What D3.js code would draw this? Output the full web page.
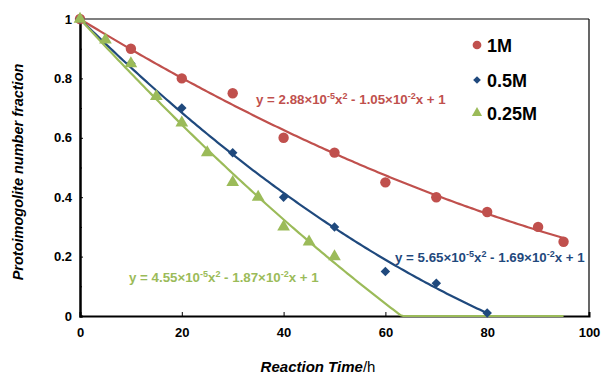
<!DOCTYPE html>
<html><head><meta charset="utf-8">
<script src="https://cdn.jsdelivr.net/npm/d3@7"></script>
<style>body{margin:0;background:#fff}svg{display:block;font-family:"Liberation Sans",Arial,sans-serif}</style>
</head><body><svg id="c" width="603" height="376"></svg>
<script>
const seriesNames = ["1M", "0.5M", "0.25M"];
const colors = ["#C0504D", "#1F497D", "#9BBB59"];
const t1M = [0, 10, 20, 30, 40, 50, 60, 70, 80, 90, 95];
const v1M = [1, 0.9, 0.8, 0.75, 0.6, 0.55, 0.45, 0.4, 0.35, 0.3, 0.25];
const t05M = [0, 10, 20, 30, 40, 50, 60, 70, 80];
const v05M = [1, 0.85, 0.7, 0.55, 0.4, 0.3, 0.15, 0.11, 0.01];
const t025M = [0, 5, 10, 15, 20, 25, 30, 35, 40, 45, 50];
const v025M = [1, 0.93, 0.85, 0.74, 0.65, 0.55, 0.45, 0.4, 0.3, 0.25, 0.2];
// trendline coefficients [a, b, c] for y = a x^2 + b x + c
const fitCoef = [[2.88e-5, -1.05e-2, 1], [5.65e-5, -1.69e-2, 1], [4.55e-5, -1.87e-2, 1]];
const fitEnd = [95, 80, 95];
const fitLabels = ["y = 2.88×10<-5>x<2> - 1.05×10<-2>x + 1", "y = 5.65×10<-5>x<2> - 1.69×10<-2>x + 1", "y = 4.55×10<-5>x<2> - 1.87×10<-2>x + 1"];
const xTicks = [0, 20, 40, 60, 80, 100];
const yTicks = [0, 0.2, 0.4, 0.6, 0.8, 1];
const yMinor = [0.1, 0.3, 0.5, 0.7, 0.9];

const svg = d3.select("#c");
const x = d3.scaleLinear().domain([0, 100]).range([80, 589]);
const y = d3.scaleLinear().domain([0, 1]).range([316, 19]);

// frame
svg.append("line").attr("x1", x(0)).attr("x2", x(100)).attr("y1", y(1)).attr("y2", y(1)).attr("stroke", "#000").attr("stroke-width", 1.2);
svg.append("line").attr("x1", x(100)).attr("x2", x(100)).attr("y1", y(1)).attr("y2", y(0)).attr("stroke", "#000").attr("stroke-width", 1.2);

// axes
const yAxis = d3.axisLeft(y).tickValues(yTicks).tickSize(-3).tickPadding(10).tickFormat(d => d === 0 ? "0" : d3.format("~g")(d));
const gy = svg.append("g").attr("transform", `translate(${x(0)},0)`).call(yAxis);
const gy2 = svg.append("g").attr("transform", `translate(${x(0)},0)`).call(d3.axisLeft(y).tickValues(yMinor).tickSize(-2).tickFormat(""));
const xAxis = d3.axisBottom(x).tickValues(xTicks).tickSize(-4).tickPadding(12);
const gx = svg.append("g").attr("transform", `translate(0,${y(0)})`).call(xAxis);
[gy, gy2, gx].forEach(g => {
  g.select(".domain").attr("stroke-width", 2).attr("stroke", "#000");
  g.selectAll(".tick line").attr("stroke", "#000").attr("stroke-width", 1);
  g.selectAll(".tick text").attr("font-size", 13).attr("font-weight", "bold").attr("fill", "#000").attr("font-family", "Liberation Sans, Arial, sans-serif");
});
gy.selectAll(".tick text").attr("dx", 2);

// fit lines
fitCoef.forEach((c, i) => {
  const xs = d3.range(0, fitEnd[i] + 0.001, 0.5);
  const pts = xs.map(t => [t, Math.max(0, c[0] * t * t + c[1] * t + c[2])]);
  svg.append("path").datum(pts)
    .attr("d", d3.line().x(d => x(d[0])).y(d => y(d[1])))
    .attr("fill", "none").attr("stroke", colors[i]).attr("stroke-width", 2.2);
});

// markers
const sym = [d3.symbolCircle, d3.symbolSquare, d3.symbolTriangle];
const symSize = [85, 45, 70];
const rot = [0, 45, 0];
const data = [[t1M, v1M], [t05M, v05M], [t025M, v025M]];
data.forEach((d, i) => {
  svg.append("g").selectAll("path").data(d[0].map((t, k) => [t, d[1][k]])).join("path")
    .attr("d", d3.symbol(sym[i], symSize[i]))
    .attr("transform", p => `translate(${x(p[0])},${y(p[1])}) rotate(${rot[i]})`)
    .attr("fill", colors[i]);
});

// fit labels with superscripts
const labelPos = [[256, 104], [395, 262], [129, 282]];
fitLabels.forEach((s, i) => {
  const t = svg.append("text").attr("x", labelPos[i][0]).attr("y", labelPos[i][1])
    .attr("fill", colors[i]).attr("font-size", 13.3).attr("font-weight", "bold");
  const parts = s.split(/(<[^>]+>)/).filter(p => p.length);
  let sup = false;
  parts.forEach(p => {
    if (p.startsWith("<")) {
      t.append("tspan").text(p.slice(1, -1)).attr("font-size", 9).attr("dy", -5);
      sup = true;
    } else {
      const ts = t.append("tspan").text(p);
      if (sup) { ts.attr("dy", 5); sup = false; }
    }
  });
});

// legend
const legY = [45, 80, 113];
seriesNames.forEach((n, i) => {
  svg.append("path").attr("d", d3.symbol(sym[i], [60, 30, 45][i]))
    .attr("transform", `translate(477,${legY[i]}) rotate(${rot[i]})`)
    .attr("fill", colors[i]);
  svg.append("text").attr("x", 487).attr("y", legY[i] + 6.5).text(n)
    .attr("font-size", 18).attr("font-weight", "bold").attr("fill", "#000");
});

// axis titles
svg.append("text").attr("transform", "translate(23,172) rotate(-90)").attr("text-anchor", "middle")
  .attr("font-size", 14.5).attr("font-weight", "bold").attr("font-style", "italic").text("Protoimogolite number fraction");
const xt = svg.append("text").attr("x", 318).attr("y", 372).attr("text-anchor", "middle").attr("font-size", 15);
xt.append("tspan").attr("font-weight", "bold").attr("font-style", "italic").text("Reaction Time");
xt.append("tspan").text("/h");
</script></body></html>
